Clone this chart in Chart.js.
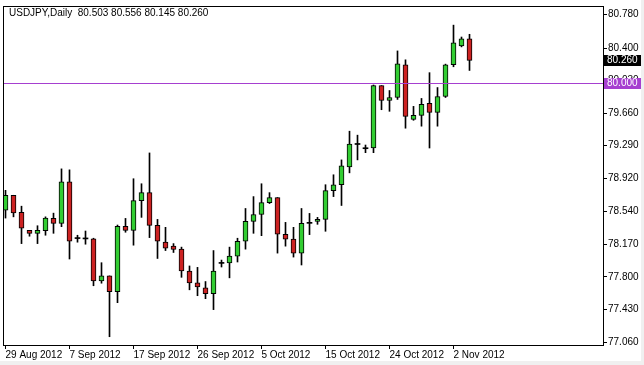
<!DOCTYPE html>
<html>
<head>
<meta charset="utf-8">
<script src="https://cdn.jsdelivr.net/npm/chart.js@4.4.1/dist/chart.umd.min.js"></script>
<style>
    html, body { margin: 0; padding: 0; background: #f0f0f0; }
    canvas { display: block; }
</style>
</head>
<body>
<canvas id="chart" width="644" height="365"></canvas>
<script>
// USDJPY daily candles, 29 Aug 2012 .. 5 Nov 2012 (Sunday bars included)
const symbolName = 'USDJPY,Daily';
const dateLabels = ['29 Aug 2012', '7 Sep 2012', '17 Sep 2012', '26 Sep 2012',
    '5 Oct 2012', '15 Oct 2012', '24 Oct 2012', '2 Nov 2012'];
const labelEvery = 8;

const opens = [78.558, 78.727, 78.532, 78.329, 78.295, 78.325, 78.464, 78.408, 78.881, 78.235,
    78.231, 78.231, 77.755, 77.811, 77.631, 78.374, 78.329, 78.667, 78.757, 78.385,
    78.194, 78.149, 78.115, 77.867, 77.732, 77.676, 77.608, 77.953, 77.958, 78.036,
    78.205, 78.431, 78.509, 78.644, 78.701, 78.284, 78.228, 78.070, 78.408, 78.431,
    78.453, 78.780, 78.847, 79.050, 79.304, 79.256, 79.264, 79.973, 79.804, 79.838,
    80.210, 79.590, 79.635, 79.771, 79.669, 79.849, 80.210, 80.424, 80.503];
const highs = [78.783, 78.727, 78.603, 78.329, 78.381, 78.482, 78.524, 79.027, 79.016, 78.273,
    78.321, 78.239, 77.961, 77.811, 78.389, 78.464, 78.915, 78.858, 79.208, 78.453,
    78.363, 78.178, 78.138, 77.924, 77.908, 77.747, 78.099, 77.991, 78.138, 78.239,
    78.577, 78.712, 78.858, 78.757, 78.701, 78.419, 78.363, 78.577, 78.521, 78.476,
    78.847, 78.960, 79.129, 79.455, 79.410, 79.298, 79.980, 79.973, 79.917, 80.367,
    80.266, 79.737, 79.827, 80.120, 79.951, 80.217, 80.660, 80.525, 80.556];
const lows = [78.468, 78.482, 78.178, 78.262, 78.178, 78.273, 78.295, 78.370, 78.003, 78.194,
    78.171, 77.699, 77.728, 77.120, 77.507, 78.307, 78.160, 78.476, 78.246, 78.009,
    78.099, 78.077, 77.795, 77.653, 77.586, 77.552, 77.428, 77.912, 77.789, 77.969,
    78.115, 78.295, 78.268, 78.633, 78.070, 78.149, 78.025, 77.935, 78.280, 78.397,
    78.318, 78.712, 78.611, 78.982, 79.129, 79.211, 79.211, 79.699, 79.681, 79.816,
    79.489, 79.579, 79.512, 79.264, 79.512, 79.838, 80.187, 80.413, 80.145];
const closes = [78.727, 78.527, 78.352, 78.295, 78.329, 78.468, 78.408, 78.881, 78.205, 78.235,
    78.231, 77.755, 77.811, 77.631, 78.374, 78.329, 78.667, 78.757, 78.385, 78.205,
    78.126, 78.111, 77.867, 77.732, 77.687, 77.608, 77.867, 77.953, 78.036, 78.205,
    78.431, 78.509, 78.644, 78.701, 78.284, 78.228, 78.070, 78.408, 78.408, 78.453,
    78.780, 78.847, 79.061, 79.309, 79.304, 79.256, 79.973, 79.804, 79.838, 80.221,
    79.624, 79.635, 79.759, 79.669, 79.849, 80.210, 80.458, 80.503, 80.260];

const priceTicks = [77.060, 77.430, 77.800, 78.170, 78.540, 78.920, 79.290, 79.660, 80.030, 80.400, 80.780];
const levelPrice = 80.000;

const bullColor = '#32cd32';
const bearColor = '#cc2222';
const levelColor = '#a63fd0';
const fontFamily = '"Liberation Sans", Arial, sans-serif';

Chart.defaults.color = '#000';
Chart.defaults.font.family = fontFamily;
Chart.defaults.font.size = 10;

const last = closes.length - 1;

// frame, level line, header text and the price boxes on the right
const decorPlugin = {
    id: 'decor',
    beforeDraw(chart) {
        const c = chart.ctx;
        c.save();
        c.fillStyle = '#f0f0f0';
        c.fillRect(0, 0, chart.width, chart.height);
        c.fillStyle = '#fff';
        c.fillRect(0, 0, 641, 361);
        c.restore();
    },
    afterDatasetsDraw(chart) {
        const c = chart.ctx;
        const area = chart.chartArea;
        const y = Math.round(chart.scales.y.getPixelForValue(levelPrice));
        c.save();
        c.fillStyle = levelColor;
        c.fillRect(area.left, y, area.right - area.left, 1);
        c.restore();
    },
    afterDraw(chart) {
        const c = chart.ctx;
        const area = chart.chartArea;
        const yScale = chart.scales.y;
        c.save();
        c.strokeStyle = '#000';
        c.lineWidth = 1;
        c.strokeRect(area.left - 0.5, area.top - 0.5, area.right - area.left + 1, area.bottom - area.top + 1);

        c.font = '10px ' + fontFamily;
        c.textBaseline = 'middle';
        c.fillStyle = '#000';
        const head = symbolName + '  ' + [opens[last], highs[last], lows[last], closes[last]]
            .map(v => v.toFixed(3)).join(' ');
        c.fillText(head, 9, 13);

        const boxes = [
            { value: closes[last], bg: '#000' },
            { value: levelPrice, bg: levelColor }
        ];
        boxes.forEach(b => {
            const y = Math.round(yScale.getPixelForValue(b.value));
            c.fillStyle = b.bg;
            c.fillRect(area.right + 1, y - 5, 37, 11);
            c.fillStyle = '#fff';
            c.fillText(b.value.toFixed(3), area.right + 4, y + 0.5);
        });
        c.restore();
    }
};

const wickData = highs.map((h, i) => ({ x: i, y: [lows[i], h] }));
const bodyData = opens.map((o, i) => ({ x: i, y: [Math.min(o, closes[i]), Math.max(o, closes[i])] }));
const bodyColors = opens.map((o, i) => o === closes[i] ? '#000' : (closes[i] > o ? bullColor : bearColor));
const bodyBorders = opens.map((o, i) => o === closes[i] ? 0 : 1);

new Chart(document.getElementById('chart'), {
    type: 'bar',
    data: {
        datasets: [{
            label: 'body',
            data: bodyData,
            backgroundColor: bodyColors,
            borderColor: '#000',
            borderWidth: bodyBorders,
            borderSkipped: false,
            barThickness: 5,
            minBarLength: 1,
            grouped: false,
            order: 1
        }, {
            label: 'wick',
            data: wickData,
            backgroundColor: '#000',
            borderWidth: 0,
            barThickness: 1,
            grouped: false,
            order: 2
        }]
    },
    options: {
        responsive: false,
        animation: false,
        layout: { padding: { left: 4, top: 4, right: 0, bottom: 0 } },
        plugins: {
            legend: { display: false },
            tooltip: { enabled: false }
        },
        scales: {
            x: {
                type: 'linear',
                offset: false,
                min: -0.1875,
                max: 74.6875,
                grid: { drawOnChartArea: false, drawTicks: true, tickLength: 4, color: '#000', offset: false },
                border: { display: false },
                afterBuildTicks: (scale) => {
                    scale.ticks = dateLabels.map((_, i) => ({ value: i * labelEvery }));
                },
                afterFit: (scale) => { scale.height = 20; },
                ticks: {
                    autoSkip: false,
                    maxRotation: 0,
                    align: 'start',
                    padding: 0,
                    callback: (value) => dateLabels[Math.round(value / labelEvery)]
                }
            },
            y: {
                type: 'linear',
                position: 'right',
                min: 77.026,
                max: 80.866,
                grid: { drawOnChartArea: false, drawTicks: true, tickLength: 4, color: '#000' },
                border: { display: false },
                afterBuildTicks: (scale) => {
                    scale.ticks = priceTicks.map(v => ({ value: v }));
                },
                afterFit: (scale) => { scale.width = 41; },
                ticks: {
                    autoSkip: false,
                    padding: 1,
                    callback: (value) => value.toFixed(3)
                }
            }
        }
    },
    plugins: [decorPlugin]
});
</script>
</body>
</html>
